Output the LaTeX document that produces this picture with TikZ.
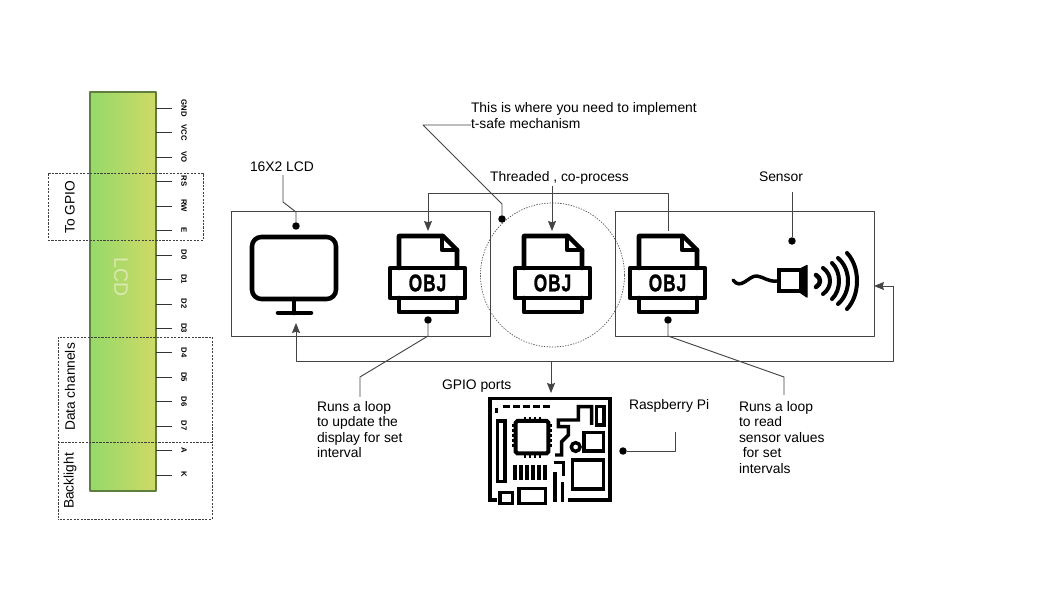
\documentclass[tikz,border=0pt]{standalone}
\usepackage{fontspec}
\setmainfont{Liberation Sans}
\newfontfamily\objfont[BoldFeatures={FakeBold=1.6}]{Liberation Sans}
\usetikzlibrary{arrows.meta}
\definecolor{wirecol}{HTML}{444444}
\definecolor{lcdleft}{HTML}{95D96A}
\definecolor{lcdright}{HTML}{CFD966}
\definecolor{lcdedge}{HTML}{5F7F3F}
\definecolor{lcdtext}{HTML}{DCE9B0}
\tikzset{
 panel/.style={draw=wirecol,line width=0.6pt,inner sep=0,outer sep=0},
 groupbox/.style={draw=black!75,line width=0.6pt,dash pattern=on 1.6pt off 1pt,inner sep=0,outer sep=0},
 wire/.style={draw=wirecol,line width=0.7pt},
 arrowwire/.style={wire,-{Stealth[length=7.5pt,width=6pt,inset=1pt]}},
 dotmark/.style={circle,fill=black,inner sep=0,minimum size=5.6pt,outer sep=0},
 caption/.style={font=\fontsize{10.4}{11.7}\selectfont,inner sep=0,outer sep=0},
 note/.style={caption,align=left,anchor=north west},
 sidelabel/.style={caption,font=\fontsize{10.3}{12}\selectfont,rotate=90},
 pinlabel/.style={font=\fontsize{5.8}{7}\selectfont\bfseries,rotate=-90,inner sep=0},
 iconline/.style={line width=3.4pt,line join=round,line cap=round},
 pics/objfile/.style={code={
  \draw[iconline] (-29,-15) -- (-29,-47) -- (15,-47) -- (29,-33) -- (29,-15);
  \draw[iconline] (14,-47) -- (14,-33) -- (29,-33);
  \draw[iconline] (-38,-15) rectangle (37,15);
  \draw[iconline] (-29,15) -- (-29,29) -- (29,29) -- (29,15);
  \node[font=\objfont\fontsize{18}{20}\selectfont\bfseries,inner sep=0,xscale=0.72] at (-0.5,0) {O\kern1pt B\kern1pt J};
 }}
}
\begin{document}
\begin{tikzpicture}[x=0.75pt,y=-0.75pt,line join=round]
 \useasboundingbox (0,0) rectangle (1058,595);
 % LCD strip and its pins
 \node[draw=lcdedge,line width=0.8pt,left color=lcdleft,right color=lcdright,minimum width=49.5pt,minimum height=299.25pt,inner sep=0,outer sep=0] (lcd) at (123,291.5) {};
 \node[rotate=-90,text=lcdtext,font=\fontsize{14.6}{16}\selectfont,inner sep=0] (lcdname) at (121,277) {LCD};
 \foreach \n/\t [count=\i from 0] in {GND/GND,VCC/VCC,VO/VO,RS/RS,RW/RW,E/E,D0/D0,D1/D1,D2/D2,D3/D3,D4/D4,D5/D5,D6/D6,D7/D7,A/A,K/K}{
  \coordinate (pin\n) at (172,{round(108+24.45*\i)+0.5});
  \draw[line width=1.1pt,black!80] (pin\n) -- (lcd.east |- pin\n);
  \node[pinlabel] (lab\n) at (184,108+24.45*\i) {\t};
 }
 % dashed groups
 \node[groupbox,minimum width=116.25pt,minimum height=50.25pt] (gpiogroup) at (125.5,206.5) {};
 \node[groupbox,minimum width=115.5pt,minimum height=78.75pt] (datagroup) at (135,389.5) {};
 \node[groupbox,dash phase=1.3pt,minimum width=115.5pt,minimum height=57.75pt] (lightgroup) at (135,480.5) {};
 \node[sidelabel] (gpiotext) at (70,207) {To GPIO};
 \node[sidelabel] (datatext) at (70,387) {Data channels};
 \node[sidelabel] (lighttext) at (70,481) {Backlight};
 % panels
 \node[panel,minimum width=194.25pt,minimum height=93.75pt] (displaybox) at (360.5,273.5) {};
 \node[panel,minimum width=194.25pt,minimum height=93.75pt] (sensorbox) at (744.5,273.5) {};
 \node[circle,draw=black!70,line width=0.5pt,dash pattern=on 1pt off 1pt,minimum size=108pt,inner sep=0,outer sep=0] (thread) at (552.5,275) {};
 % monitor
 \draw[iconline,rounded corners=7pt] (252,237) rectangle (336,299);
 \draw[iconline] (294,299) -- (294,313) (278,313) -- (311,313);
 % object files
 \pic (objone) at (428,283) {objfile};
 \pic (objtwo) at (553,283) {objfile};
 \pic (objthree) at (668,283) {objfile};
 % sensor
 \draw[line width=2.6pt,line cap=round] (733,280) .. controls (741,291) and (749,275) .. (757,276) .. controls (764,277) and (768,282) .. (777,281);
 \draw[line width=3.2pt,line join=miter] (779,270) -- (801,270) -- (801,291) -- (779,291) -- cycle;
 \fill[line join=round,draw=black,line width=1pt] (801,268.5) -- (807,265.5) -- (807,297) -- (801,293) -- cycle;
 \foreach \s/\p/\h/\w in {816/820/6/3.4,823/830/13/3,832/839/18/3,838/848/23/3,847/857/28/3}
  \draw[line width=\w pt,line cap=round] (\s,281-\h) .. controls ({\s+(\p-\s)/0.75},281-\h*0.5) and ({\s+(\p-\s)/0.75},281+\h*0.5) .. (\s,281+\h);
 % raspberry pi board
 \begin{scope}[shift={(480,385)},x=0.25pt,y=-0.25pt,line width=2.6pt,line join=miter]
  \draw (50,345) -- (30,345) -- (30,40) -- (390,40) -- (390,345) -- (265,345);
  \draw (50,68) -- (50,85);
  \draw[line width=2.4pt] (70,65) -- (90,65) (100,65) -- (120,65) (130,65) -- (150,65) (160,65) -- (180,65) (190,65) -- (210,65);
  \draw (52,108) rectangle (75,290);
  \draw[line width=3pt] (112,108) -- (200,108) -- (205,113) -- (205,200) -- (200,205) -- (112,205) -- (107,200) -- (107,113) -- cycle;
  \foreach \a in {135,150,165,180}
   \draw[line width=2pt] (\a,96) -- (\a,106) (\a,207) -- (\a,218);
  \foreach \a in {122,137,152,167,182}
   \draw[line width=2pt] (97,\a) -- (106,\a) (206,\a) -- (215,\a);
  \draw (225,210) -- (245,210) -- (245,170) -- (265,150) -- (265,125) -- (235,125) -- (235,105) -- (295,105) -- (295,65) -- (335,65) -- (335,120);
  \draw (350,65) rectangle (372,120);
  \draw (312,142) rectangle (370,198);
  \draw (287,186) circle (13);
  \draw (278,225) rectangle (370,312);
  \foreach \a in {105,123,141,159,177,195}
   \draw (\a,240) -- (\a,285);
  \draw (60,322) rectangle (97,355);
  \draw (117,310) rectangle (197,355);
  \draw (222,232) -- (250,232) -- (250,272);
  \draw (225,262) -- (225,352) (248,292) -- (248,352);
 \end{scope}
 % captions
 \node[caption,anchor=west] (lcdtext) at (250,167) {16X2 LCD};
 \node[note] (safenote) at (471,102) {This is where you need to implement\\[0.4pt]t-safe mechanism};
 \node[caption] (threadtext) at (559.5,177.5) {Threaded , co-process};
 \node[caption] (sensortext) at (781,177) {Sensor};
 \node[caption,anchor=west] (gpiotitle) at (442,386.5) {GPIO ports};
 \node[caption,anchor=west] (pitext) at (629,405.5) {Raspberry Pi};
 \node[note] (loopleft) at (317,401) {Runs a loop\\to update the\\display for set\\interval};
 \node[note] (loopright) at (739,401) {Runs a loop\\to read\\sensor values\\~for set\\intervals};
 % dots
 \node[dotmark] (lcddot) at (296,226) {};
 \node[dotmark] (safedot) at (502,219) {};
 \node[dotmark] (sensordot) at (792,241) {};
 \node[dotmark] (objonedot) at (428,320) {};
 \node[dotmark] (objthreedot) at (668,320) {};
 \node[dotmark] (pidot) at (623,451) {};
 % connectors
 \coordinate (lcdtop) at (283,175);
 \draw[wire] (lcdtop) -- (283,202) -- (296,212) -- (lcddot);
 \coordinate (safeend) at (471,125);
 \draw[wire] (safeend) -- (423,125) -- (502,204) -- (safedot);
 \coordinate (objonein) at (428,231);
 \coordinate (objthreein) at (668,231);
 \draw[arrowwire] (objthreein) -- (668,193) -- (428,193) -- (objonein);
 \coordinate (threadtop) at (552,186);
 \coordinate (threadin) at (552,231);
 \draw[arrowwire] (threadtop) -- (threadin);
 \coordinate (sensortop) at (792,192);
 \draw[wire] (sensortop) -- (sensordot);
 \coordinate (leftend) at (360,397);
 \draw[wire] (objonedot) -- (428,336) -- (360,377) -- (leftend);
 \coordinate (rightend) at (784,395);
 \draw[wire] (objthreedot) -- (668,336) -- (784,377) -- (rightend);
 \coordinate (monitorin) at (296,323);
 \coordinate (busright) at (893,286);
 \coordinate (buspi) at (551,361);
 \coordinate (piin) at (551,393);
 \draw[arrowwire] (busright) -- (893,361) -- (296,361) -- (monitorin);
 \draw[arrowwire] (busright) -- (sensorbox.east |- busright);
 \draw[arrowwire] (buspi) -- (piin);
 \coordinate (pitop) at (675,432);
 \draw[wire] (pitop) -- (675,451) -- (pidot);
\end{tikzpicture}
\end{document}
